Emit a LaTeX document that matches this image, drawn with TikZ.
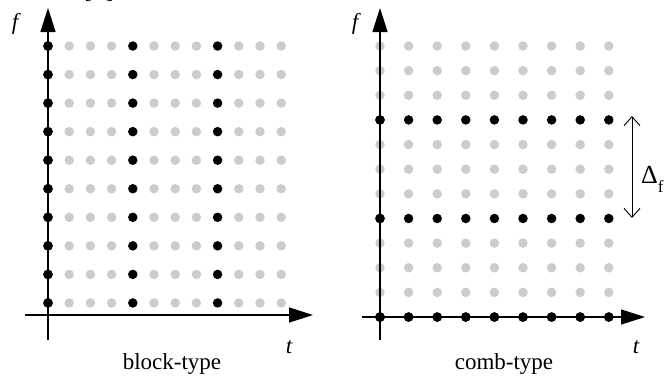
\documentclass[tikz,border=0pt]{standalone}
\usepackage{fontspec}
\setmainfont{Liberation Serif}
\usetikzlibrary{arrows.meta}
\definecolor{dotgray}{RGB}{204,204,204}
\tikzset{
  axis/.style={line width=1.4pt, -{Triangle[length=24pt,width=15pt]}},
  blackdot/.style={circle, fill=black, inner sep=0pt, minimum size=9.5pt},
  graydot/.style={circle, fill=dotgray, inner sep=0pt, minimum size=9.5pt},
  lbl/.style={font=\fontsize{23}{27}\selectfont, inner sep=0pt},
  deltaarrow/.style={line width=0.9pt, {Straight Barb[length=9pt,width=16pt]}-{Straight Barb[length=9pt,width=16pt]}}
}
\begin{document}
\begin{tikzpicture}[x=1pt,y=-1pt]
\useasboundingbox (0,0) rectangle (664,381);
% cut-off fragment at top (as in the reference)
\node[lbl, anchor=base] (frag) at (99,-2) {[\hspace{14pt}]};
% ---------- left panel: block-type ----------
\foreach \j in {0,...,11}{
  \foreach \i in {0,...,9}{
    \pgfmathsetmacro{\xx}{48+\j*21.2}
    \pgfmathsetmacro{\yy}{46+\i*28.55}
    \ifnum\j=0 \def\st{blackdot}\else\ifnum\j=4 \def\st{blackdot}\else\ifnum\j=8 \def\st{blackdot}\else\def\st{graydot}\fi\fi\fi
    \node[\st] (L-\j-\i) at (\xx,\yy) {};
  }
}
\coordinate (LvB) at (48,340);
\coordinate (LvT) at (48,8);
\coordinate (LhL) at (25,315);
\coordinate (LhR) at (313,315);
\draw[axis] (LvB) -- (LvT);
\draw[axis] (LhL) -- (LhR);
\foreach \j in {0}{\foreach \i in {0,...,9}{\node[blackdot] at (L-\j-\i) {};}}
\node[lbl, font=\fontsize{23}{27}\selectfont\itshape] (Lf) at (15,24) {f};
\node[lbl, font=\fontsize{23}{27}\selectfont\itshape] (Lt) at (289,347) {t};
\node[lbl] (Lcap) at (172,364) {block-type};
% ---------- right panel: comb-type ----------
\foreach \j in {0,...,8}{
  \foreach \i in {0,...,11}{
    \pgfmathsetmacro{\xx}{380+\j*28.6}
    \pgfmathsetmacro{\yy}{46+\i*24.64}
    \ifnum\i=3 \def\st{blackdot}\else\ifnum\i=7 \def\st{blackdot}\else\ifnum\i=11 \def\st{blackdot}\else\def\st{graydot}\fi\fi\fi
    \node[\st] (R-\j-\i) at (\xx,\yy) {};
  }
}
\coordinate (RvB) at (380,340);
\coordinate (RvT) at (380,8);
\coordinate (RhL) at (362,317);
\coordinate (RhR) at (645,317);
\draw[axis] (RvB) -- (RvT);
\draw[axis] (RhL) -- (RhR);
\foreach \j in {0,...,8}{\node[blackdot] at (R-\j-11) {};}
\foreach \i in {3,7,11}{\node[blackdot] at (R-0-\i) {};}
\node[lbl, font=\fontsize{23}{27}\selectfont\itshape] (Rf) at (355,24) {f};
\node[lbl, font=\fontsize{23}{27}\selectfont\itshape] (Rt) at (636,347) {t};
\node[lbl] (Rcap) at (504,364) {comb-type};
% Delta_f spacing arrow
\coordinate (DT) at (632,116);
\coordinate (DB) at (632,218);
\draw[deltaarrow] (DT) -- (DB);
\node[inner sep=0pt, anchor=base west] (Dlbl) at (641,183) {\fontsize{26}{30}\selectfont Δ\raisebox{-9pt}{\fontsize{17}{20}\selectfont f}};
\end{tikzpicture}
\end{document}
